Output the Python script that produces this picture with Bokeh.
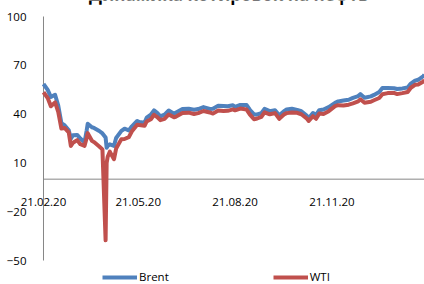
import pandas as pd
from bokeh.plotting import figure
from bokeh.models import (FixedTicker, DatetimeTickFormatter, Legend, LegendItem,
                          Label, Range1d, ColumnDataSource)
from bokeh.embed import file_html
from bokeh.resources import INLINE

title_text = "Динамика котировок на нефть"
series_names = ["Brent", "WTI"]
y_ticks = [-50, -20, 10, 40, 70, 100]
y_min, y_max = -50, 100
x_tick_dates = ["2020-02-21", "2020-05-21", "2020-08-21", "2020-11-21"]
x_start, x_end = "2020-02-21", "2021-02-17"

dates = [
    "2020-02-21", "2020-02-25", "2020-02-28", "2020-03-03", "2020-03-06", "2020-03-09",
    "2020-03-12", "2020-03-16", "2020-03-18", "2020-03-20", "2020-03-24", "2020-03-27",
    "2020-03-31", "2020-04-02", "2020-04-03", "2020-04-07", "2020-04-09", "2020-04-14",
    "2020-04-17", "2020-04-20", "2020-04-21", "2020-04-22", "2020-04-24", "2020-04-28",
    "2020-04-30", "2020-05-05", "2020-05-08", "2020-05-12", "2020-05-15", "2020-05-20",
    "2020-05-22", "2020-05-27", "2020-05-29", "2020-06-02", "2020-06-05", "2020-06-08",
    "2020-06-11", "2020-06-15", "2020-06-19", "2020-06-24", "2020-06-26", "2020-07-02",
    "2020-07-08", "2020-07-13", "2020-07-17", "2020-07-22", "2020-07-28", "2020-07-31",
    "2020-08-05", "2020-08-10", "2020-08-14", "2020-08-19", "2020-08-21", "2020-08-26",
    "2020-09-01", "2020-09-04", "2020-09-08", "2020-09-11", "2020-09-15", "2020-09-18",
    "2020-09-23", "2020-09-28", "2020-10-02", "2020-10-07", "2020-10-09", "2020-10-14",
    "2020-10-19", "2020-10-23", "2020-10-28", "2020-10-30", "2020-11-03", "2020-11-06",
    "2020-11-09", "2020-11-13", "2020-11-18", "2020-11-24", "2020-11-27", "2020-12-02",
    "2020-12-07", "2020-12-11", "2020-12-16", "2020-12-18", "2020-12-22", "2020-12-28",
    "2020-12-31", "2021-01-05", "2021-01-08", "2021-01-13", "2021-01-19", "2021-01-22",
    "2021-01-27", "2021-02-01", "2021-02-04", "2021-02-08", "2021-02-11", "2021-02-16",
    "2021-02-17",
]

brent = [
    58.5, 54.9, 50.5, 51.9, 45.3, 34.4,
    33.2, 30.0, 24.9, 27.0, 27.2, 25.0,
    22.7, 29.9, 34.1, 31.9, 31.5, 29.6,
    28.1, 25.6, 19.3, 20.4, 21.4, 20.5,
    25.3, 29.7, 31.0, 30.0, 32.5, 35.8,
    35.1, 34.7, 37.8, 39.6, 42.3, 40.8,
    38.6, 39.7, 42.2, 40.3, 41.0, 43.1,
    43.3, 42.7, 43.1, 44.3, 43.2, 43.3,
    45.2, 45.0, 44.8, 45.4, 44.4, 45.6,
    45.6, 42.7, 39.8, 39.8, 40.5, 43.2,
    41.8, 42.4, 39.3, 42.0, 42.9, 43.3,
    42.6, 41.8, 39.1, 37.5, 40.7, 39.5,
    42.4, 42.8, 44.3, 46.9, 47.8, 48.3,
    48.8, 50.0, 51.1, 52.3, 50.1, 50.9,
    51.8, 53.6, 56.0, 56.1, 55.9, 55.4,
    55.8, 56.4, 58.8, 60.6, 61.1, 63.4,
    64.3,
]

wti = [
    53.4, 49.9, 44.8, 47.2, 41.3, 31.1,
    31.5, 28.7, 20.4, 22.4, 24.0, 21.5,
    20.5, 25.3, 28.3, 23.6, 22.8, 20.1,
    18.3, -37.6, 10.0, 13.8, 16.9, 12.3,
    18.8, 24.6, 24.7, 25.8, 29.4, 33.5,
    33.3, 32.8, 35.5, 36.8, 39.6, 38.2,
    36.3, 37.1, 39.8, 38.0, 38.5, 40.7,
    40.9, 40.1, 40.6, 41.9, 41.0, 40.3,
    42.2, 41.9, 42.0, 42.9, 42.3, 43.4,
    42.8, 39.8, 36.8, 37.3, 38.3, 41.1,
    39.9, 40.6, 37.1, 40.0, 40.6, 41.0,
    40.8, 39.9, 37.4, 35.8, 38.7, 37.1,
    40.3, 40.1, 41.8, 44.9, 45.5, 45.3,
    45.8, 46.6, 47.8, 49.1, 47.0, 47.6,
    48.5, 49.9, 52.2, 52.9, 53.0, 52.3,
    52.9, 53.6, 56.2, 58.0, 58.2, 60.1,
    61.1,
]

FONT = "Open Sans"
W, H = 424, 284
# plot area (where the axes sit) inside the canvas, in pixels
PL, PR, PT, PB = 43, 424, 16, 260

t0, t1 = pd.Timestamp(x_start), pd.Timestamp(x_end)
ms_per_px = (t1 - t0) / (PR - PL)
px_per_unit = (PB - PT) / (y_max - y_min)
x_range = Range1d(t0 - ms_per_px * PL, t1 + ms_per_px * (W - PR))
y_range = Range1d(y_min - (H - PB) / px_per_unit, y_max + PT / px_per_unit)

source = ColumnDataSource(dict(date=pd.to_datetime(dates), brent=brent, wti=wti))

p = figure(width=W, height=H, x_axis_type="datetime",
           x_range=x_range, y_range=y_range,
           output_backend="svg", toolbar_location=None,
           min_border_left=0, min_border_right=0, min_border_top=0, min_border_bottom=0)
p.outline_line_color = None
p.grid.visible = False
p.background_fill_color = "white"

# axis lines (only over the value/date span, as in the reference)
p.segment(x0=[t0], y0=[y_min], x1=[t0], y1=[y_max], line_color="#868686", line_width=1)
p.segment(x0=[t0], y0=[0], x1=[x_range.end], y1=[0], line_color="#868686", line_width=1)

rb = p.line("date", "brent", source=source, line_color="#4F81BD", line_width=4, line_join="round")
rw = p.line("date", "wti", source=source, line_color="#C0504D", line_width=4, line_join="round")

# y axis at the first date
ya = p.yaxis[0]
ya.fixed_location = t0.value / 1e6
ya.ticker = FixedTicker(ticks=y_ticks)
ya.axis_line_color = None
ya.major_tick_line_color = None
ya.minor_tick_line_color = None
ya.major_label_standoff = 11
ya.major_label_text_font = FONT
ya.major_label_text_font_size = "11.5px"
ya.major_label_text_color = "black"

# x axis at zero
xa = p.xaxis[0]
xa.fixed_location = 0
xa.ticker = FixedTicker(ticks=[pd.Timestamp(d).value / 1e6 for d in x_tick_dates])
fmt = "%d.%m.%y"
xa.formatter = DatetimeTickFormatter(days=fmt, months=fmt, years=fmt, hours=fmt,
                                     minutes=fmt, seconds=fmt, milliseconds=fmt,
                                     microseconds=fmt, minsec=fmt, hourmin=fmt)
xa.axis_line_color = None
xa.major_tick_line_color = None
xa.minor_tick_line_color = None
xa.major_label_standoff = 13
xa.major_label_text_font = FONT
xa.major_label_text_font_size = "11.5px"
xa.major_label_text_color = "black"

legend = Legend(items=[LegendItem(label=series_names[0], renderers=[rb]),
                       LegendItem(label=series_names[1], renderers=[rw])],
                orientation="horizontal", location=(102, 0),
                glyph_width=35, glyph_height=12, label_standoff=2, spacing=104,
                padding=0, margin=0, label_height=12, label_width=10,
                border_line_color=None, background_fill_alpha=0,
                label_text_font=FONT, label_text_font_size="11.5px",
                label_text_color="black")
p.add_layout(legend)

title = Label(x=pd.Timestamp("2020-08-15").value / 1e6, y=y_range.end + 6 / px_per_unit,
              text=title_text, text_align="center", text_baseline="alphabetic",
              text_font=FONT, text_font_size="17px", text_font_style="bold",
              text_color="black")
p.add_layout(title)

open("out.html", "w").write(file_html(p, INLINE))
